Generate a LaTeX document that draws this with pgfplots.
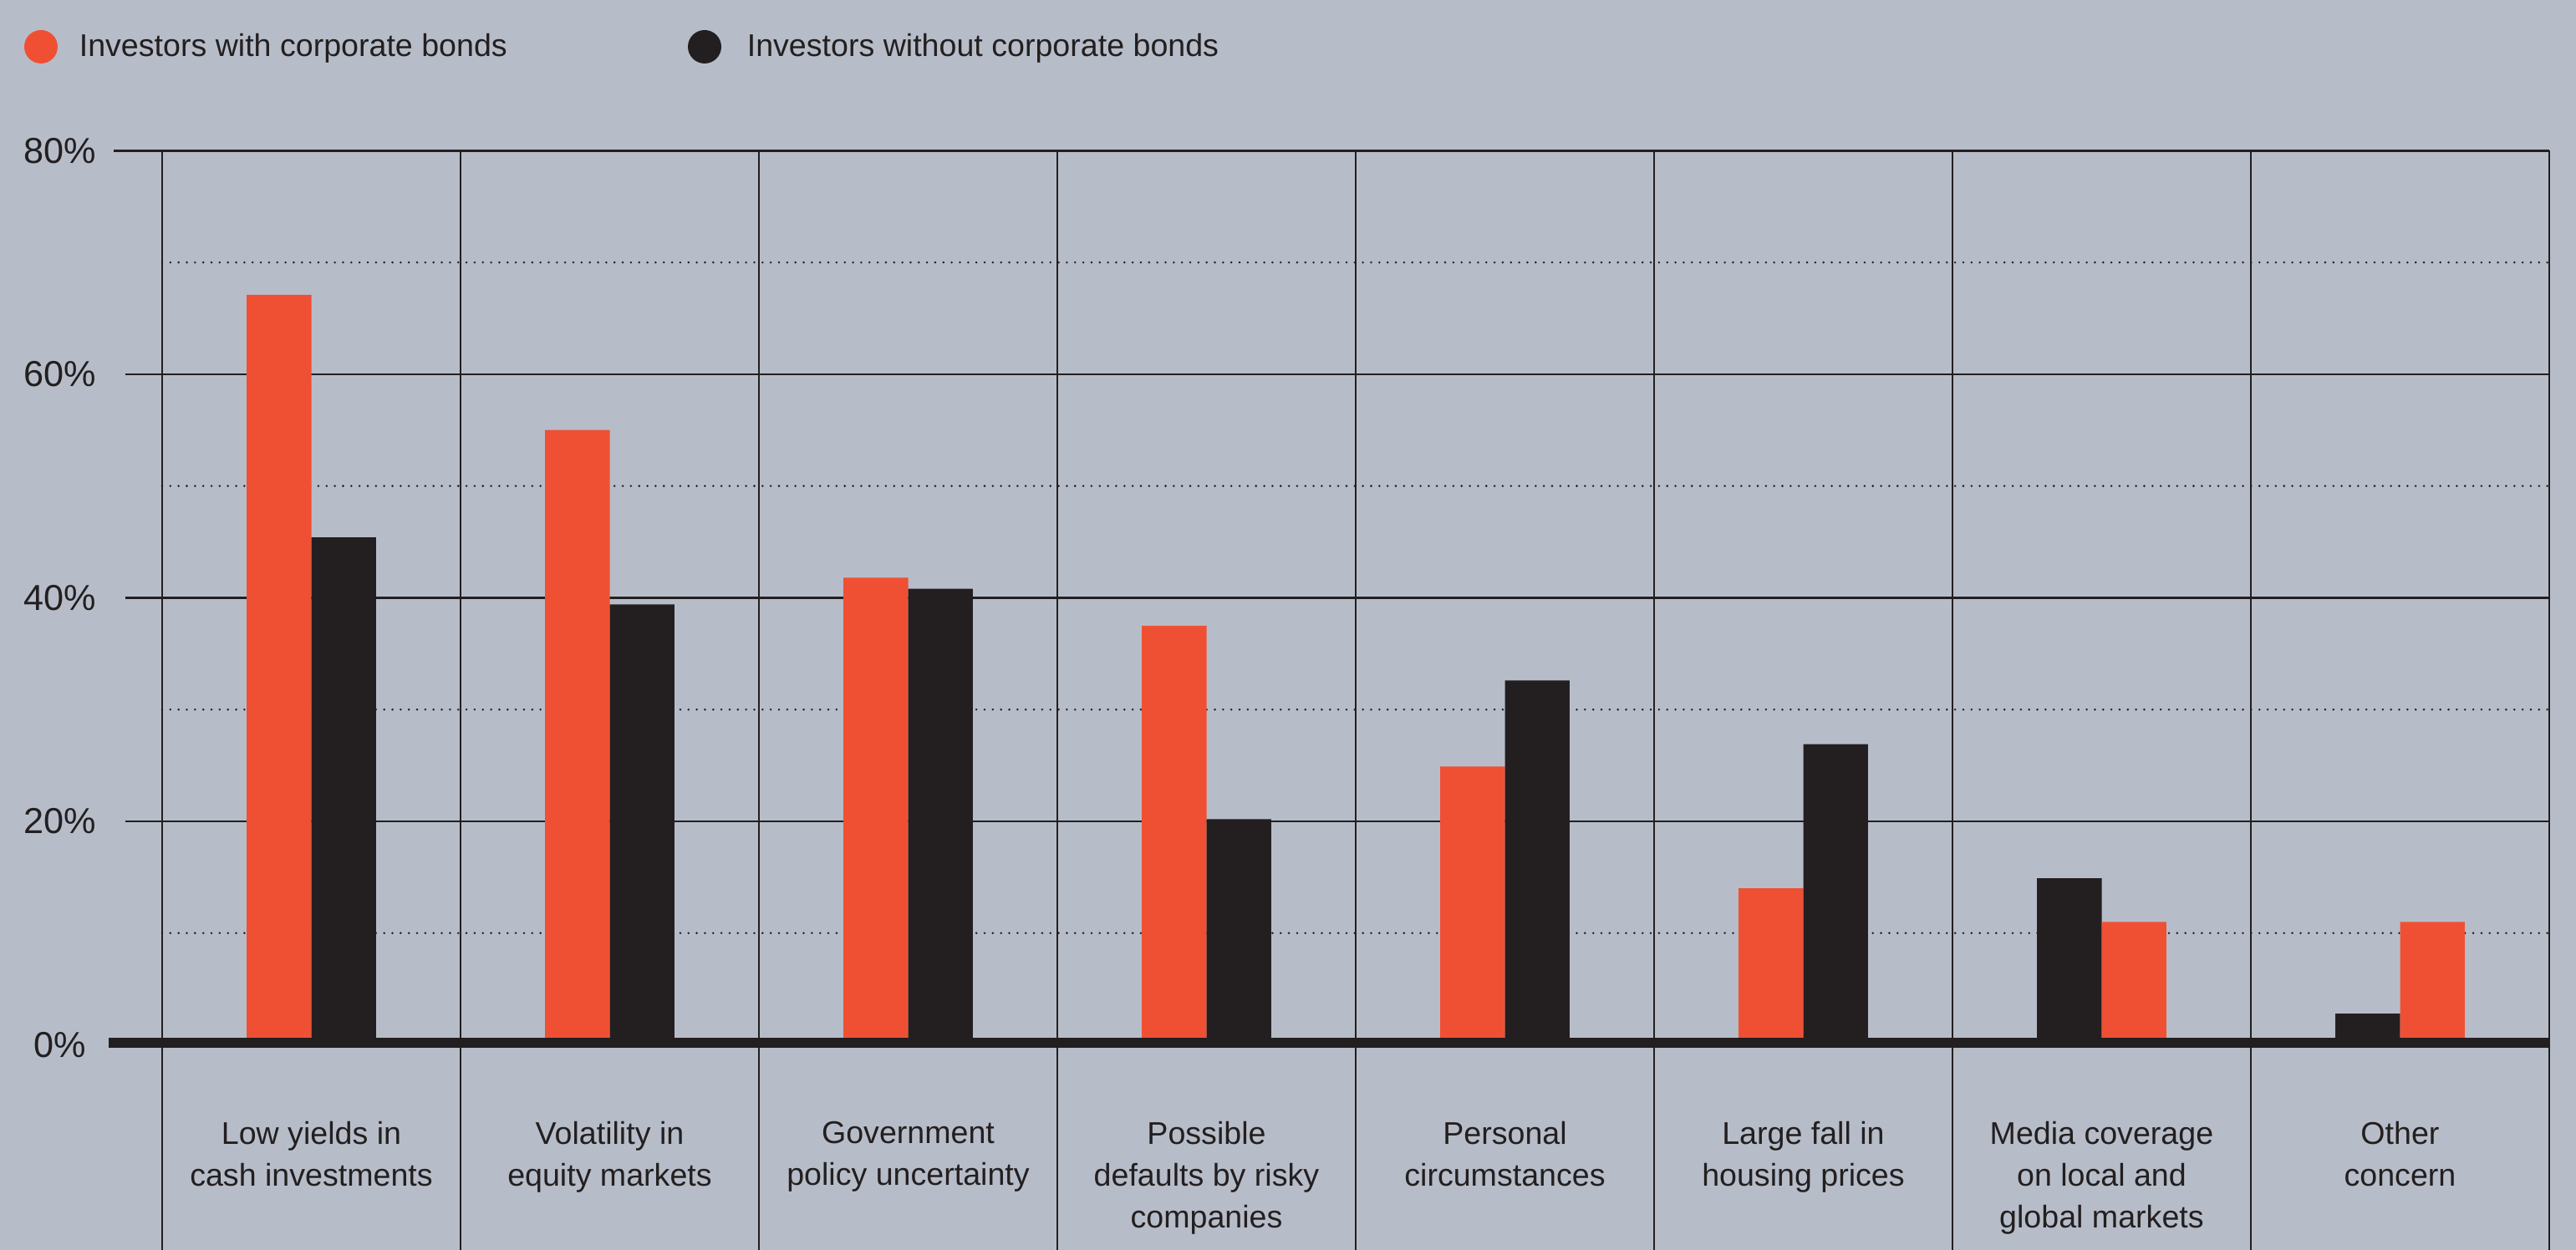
\documentclass[border=0pt]{standalone}
\usepackage{pgfplots}
\pgfplotsset{compat=1.18}
\usepackage{fontspec}
\setmainfont{Liberation Sans}
\definecolor{bg}{HTML}{B7BDC8}
\definecolor{cred}{HTML}{EF5033}
\definecolor{cblk}{HTML}{231F20}
\begin{document}
\begin{tikzpicture}
\useasboundingbox (0,0) rectangle (770.5pt,374pt);
\fill[bg] (0,0) rectangle (770.5pt,374pt);
\clip (0,0) rectangle (770.5pt,374pt);
% legend
\fill[cred] (12.25pt,360pt) circle (5pt);
\node[anchor=base west, inner sep=0pt, text=cblk, font=\fontsize{9.4}{12}\selectfont] at (23.5pt,357pt) {Investors with corporate bonds};
\fill[cblk] (210.75pt,360pt) circle (5pt);
\node[anchor=base west, inner sep=0pt, text=cblk, font=\fontsize{9.4}{12}\selectfont] at (223.25pt,357pt) {Investors without corporate bonds};
\begin{axis}[
  at={(48.5pt,61.375pt)}, anchor=south west,
  scale only axis, width=714pt, height=267.55pt,
  xmin=-0.5, xmax=7.5, ymin=0, ymax=80,
  clip=false,
  axis line style={draw=none},
  tick style={draw=none}, major tick length=0pt,
  ytick={0,20,40,60,80},
  /pgf/number format/assume math mode=true,
  yticklabel={\pgfmathprintnumber{\tick}\%},
  yticklabel style={anchor=center, inner sep=0pt, xshift=-30.5pt, font=\fontsize{10.8}{12}\selectfont, text=cblk},
  xtick={0,...,7},
  xticklabels={{Low yields in\\cash investments},{Volatility in\\equity markets},{Government\\policy uncertainty},{Possible\\defaults by risky\\companies},{Personal\\circumstances},{Large fall in\\housing prices},{Media coverage\\on local and\\global markets},{Other\\concern}},
  xticklabel style={anchor=north, align=center, inner sep=0pt, yshift=-22.8pt, font=\fontsize{9.4}{12.5}\selectfont, text=cblk},
]
% solid grid
\draw[cblk, line width=0.65pt] (axis cs:-0.662,80) -- (axis cs:7.5,80);
\draw[cblk, line width=0.65pt] (axis cs:-0.623,60) -- (axis cs:7.5,60);
\draw[cblk, line width=0.65pt] (axis cs:-0.623,40) -- (axis cs:7.5,40);
\draw[cblk, line width=0.65pt] (axis cs:-0.623,20) -- (axis cs:7.5,20);
% dotted grid
\draw[cblk, line width=0.7pt, line cap=round, dash pattern=on 0pt off 2.46pt] (axis cs:-0.5,70) -- (axis cs:7.5,70);
\draw[cblk, line width=0.7pt, line cap=round, dash pattern=on 0pt off 2.46pt] (axis cs:-0.5,50) -- (axis cs:7.5,50);
\draw[cblk, line width=0.7pt, line cap=round, dash pattern=on 0pt off 2.46pt] (axis cs:-0.5,30) -- (axis cs:7.5,30);
\draw[cblk, line width=0.7pt, line cap=round, dash pattern=on 0pt off 2.46pt] (axis cs:-0.5,10) -- (axis cs:7.5,10);
% vertical separators
\pgfplotsinvokeforeach{-0.5,0.5,1.5,2.5,3.5,4.5,5.5,6.5,7.5}{
  \draw[cblk, line width=0.6pt] (axis cs:#1,80) -- (axis cs:#1,-20);
}
% bars: with corporate bonds (left) / without (right) for first six
\addplot[ybar, bar width=0.217, bar shift=-0.1085, fill=cred, draw=none]
  coordinates {(0,67.1) (1,55.0) (2,41.8) (3,37.5) (4,24.9) (5,14.0)};
\addplot[ybar, bar width=0.217, bar shift=0.1085, fill=cblk, draw=none]
  coordinates {(0,45.4) (1,39.4) (2,40.8) (3,20.2) (4,32.6) (5,26.9)};
% last two: without (left) / with (right)
\addplot[ybar, bar width=0.217, bar shift=-0.1085, fill=cblk, draw=none]
  coordinates {(6,14.9) (7,2.8)};
\addplot[ybar, bar width=0.217, bar shift=0.1085, fill=cred, draw=none]
  coordinates {(6,11.0) (7,11.0)};
% baseline
\fill[cblk] (axis cs:-0.679,-0.26) rectangle (axis cs:7.5,0.64);
\end{axis}
\end{tikzpicture}
\end{document}
